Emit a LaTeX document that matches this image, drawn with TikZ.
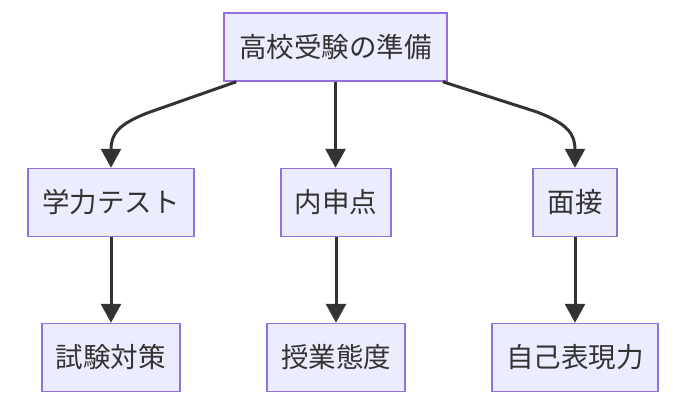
\documentclass[tikz,border=0pt]{standalone}
\usepackage{fontspec}
\setmainfont{Noto Sans CJK JP}
\usetikzlibrary{arrows.meta}
\definecolor{nodefill}{HTML}{ECECFF}
\definecolor{nodeborder}{HTML}{9370DB}
\definecolor{ink}{HTML}{333333}
\begin{document}
\begin{tikzpicture}[x=1pt,y=-1pt,
  box/.style={draw=nodeborder,fill=nodefill,line width=1.5pt,text=ink,
    font=\fontsize{27.5}{32}\selectfont,minimum height=68pt,inner sep=0pt,anchor=center},
  arr/.style={draw=ink,line width=3pt,-{Triangle[length=19pt,width=20pt]}}]
\useasboundingbox (0,0) rectangle (673,402);
\fill[white] (0,0) rectangle (673,402);
\node[box,minimum width=223pt] (top) at (335.5,47) {高校受験の準備};
\node[box,minimum width=166pt] (A) at (111,202.5) {学力テスト};
\node[box,minimum width=110pt] (B) at (336,202.5) {内申点};
\node[box,minimum width=84pt] (C) at (575,202.5) {面接};
\node[box,minimum width=138pt] (D) at (111,357.5) {試験対策};
\node[box,minimum width=138pt] (E) at (336,357.5) {授業態度};
\node[box,minimum width=166pt] (F) at (575,357.5) {自己表現力};
\draw[arr] ([xshift=13pt]top.south west) -- (150,112) .. controls (118,124) and (111,134) .. (111,150) -- (A.north);
\draw[arr] (top.south) -- (top.south |- B.north);
\draw[arr] ([xshift=-5pt]top.south east) -- (537,112) .. controls (568,124) and (575,134) .. (575,150) -- (C.north);
\draw[arr] (A.south) -- (D.north);
\draw[arr] (B.south) -- (E.north);
\draw[arr] (C.south) -- (F.north);
\end{tikzpicture}
\end{document}
